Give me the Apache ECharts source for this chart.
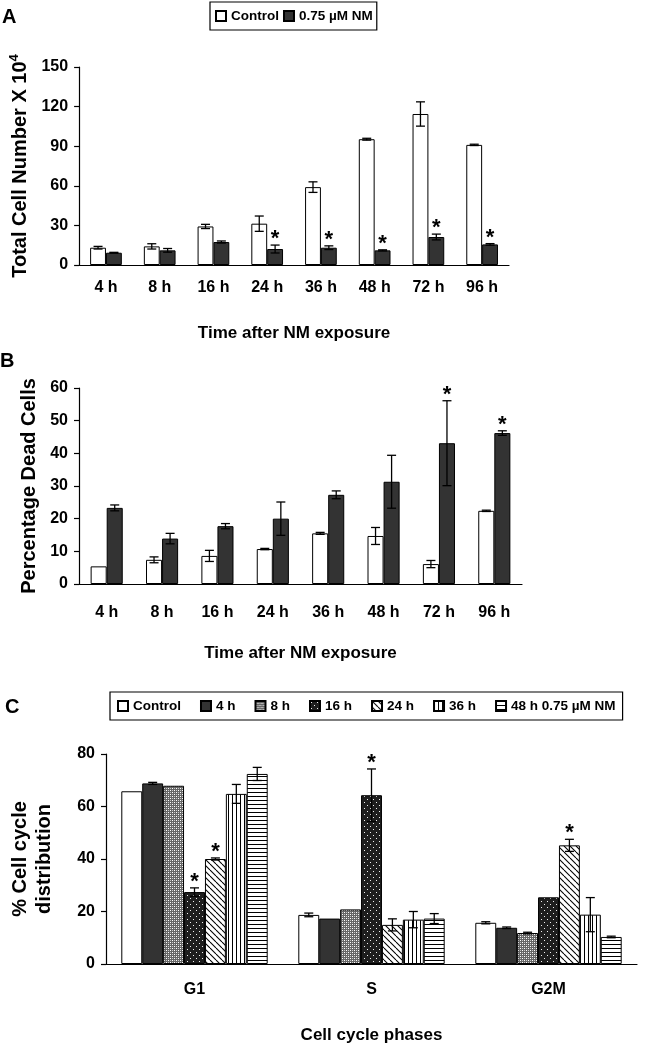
<!DOCTYPE html>
<html><head><meta charset="utf-8">
<script src="https://cdn.jsdelivr.net/npm/echarts@6/dist/echarts.min.js"></script>
<style>html,body{margin:0;padding:0;background:#fff}#c{width:663px;height:1050px}</style>
</head><body><div id="c"></div>
<script>
// ---------- data ----------
const timeCats = ['4 h','8 h','16 h','24 h','36 h','48 h','72 h','96 h'];
const countControl    = [13.1, 14.1, 29.2, 31.3, 59.0, 95.3, 114.4, 91.0];
const countControlErr = [1.0, 2.0, 1.6, 5.8, 4.0, 0.7, 9.2, 0.5];
const countNM         = [9.3, 11.1, 17.4, 12.1, 13.1, 11.1, 21.2, 15.6];
const countNMErr      = [0.3, 1.4, 0.8, 3.0, 1.4, 0.4, 2.2, 0.6];
const countNMSig      = [0, 0, 0, 1, 1, 1, 1, 1];
const countTicks = {min: 0, max: 150, interval: 30};

const deadControl    = [5.4, 7.4, 8.6, 10.7, 15.5, 14.7, 6.1, 22.4];
const deadControlErr = [0, 0.9, 1.7, 0.2, 0.3, 2.6, 1.1, 0.2];
const deadNM         = [23.3, 13.9, 17.7, 20.0, 27.3, 31.3, 43.1, 46.2];
const deadNMErr      = [0.9, 1.6, 0.8, 5.1, 1.2, 8.1, 13.0, 0.7];
const deadNMSig      = [0, 0, 0, 0, 0, 0, 1, 1];
const deadTicks = {min: 0, max: 60, interval: 10};

const phaseCats = ['G1', 'S', 'G2M'];
const cycleNames = ['Control', '4 h', '8 h', '16 h', '24 h', '36 h', '48 h'];
const cycleControl = [65.8, 18.7, 15.7], cycleControlErr = [0, 0.7, 0.4], cycleControlSig = [0, 0, 0];
const cycle4h  = [68.8, 17.3, 13.8], cycle4hErr  = [0.4, 0, 0.3],  cycle4hSig  = [0, 0, 0];
const cycle8h  = [67.9, 20.8, 11.8], cycle8hErr  = [0, 0, 0.3],    cycle8hSig  = [0, 0, 0];
const cycle16h = [27.4, 64.3, 25.4], cycle16hErr = [1.6, 10.0, 0], cycle16hSig = [1, 1, 0];
const cycle24h = [40.0, 14.9, 45.2], cycle24hErr = [0.4, 2.3, 2.3], cycle24hSig = [1, 0, 1];
const cycle36h = [64.8, 16.9, 18.8], cycle36hErr = [3.6, 3.1, 6.5], cycle36hSig = [0, 0, 0];
const cycle48h = [72.4, 17.3, 10.3], cycle48hErr = [2.5, 1.9, 0.3], cycle48hSig = [0, 0, 0];
const cycleTicks = {min: 0, max: 80, interval: 20};

// ---------- styles ----------
const FN = "'Liberation Sans',Arial,sans-serif";
const FR = "'Liberation Sans',Arial,sans-serif";
const DARK = '#333333';

function tile(w, h, bg, draw) {
  const c = document.createElement('canvas'); c.width = w; c.height = h;
  const x = c.getContext('2d'); x.fillStyle = bg; x.fillRect(0, 0, w, h); draw(x);
  return {image: c, repeat: 'repeat'};
}
const pat8 = tile(4, 4, '#666666', x => {
  x.fillStyle = '#ffffff'; x.fillRect(0, 0, 1, 1); x.fillRect(2, 2, 1, 1);
  x.fillStyle = '#c8c8c8'; x.fillRect(2, 0, 1, 1); x.fillRect(0, 2, 1, 1);
});
const pat16 = tile(6, 6, '#1e1e1e', x => { x.fillStyle = '#f0f0f0'; x.fillRect(1, 1, 1, 1); x.fillRect(4, 4, 1, 1); });
const pat24 = tile(6, 6, '#ffffff', x => {
  x.strokeStyle = '#000'; x.lineWidth = 1.1;
  [-6, 0, 6].forEach(k => { x.beginPath(); x.moveTo(k, 0); x.lineTo(k + 6, 6); x.stroke(); });
});
const pat36 = tile(4, 1, '#ffffff', x => { x.fillStyle = '#000'; x.fillRect(0, 0, 1, 1); });
const pat48 = tile(1, 4, '#ffffff', x => { x.fillStyle = '#000'; x.fillRect(0, 0, 1, 1); });
const cycleFills = ['#ffffff', DARK, pat8, pat16, pat24, pat36, pat48];

const grids = [
  {left: 78, top: 67, width: 431, height: 198},
  {left: 79, top: 388, width: 443, height: 196},
  {left: 101, top: 754, width: 536, height: 210}
];

const lineSt = {color: '#000', width: 1.2};
function xAx(g, data, margin, name, nameGap) {
  return {type: 'category', gridIndex: g, data,
    axisLine: {lineStyle: lineSt}, axisTick: {length: 6, lineStyle: lineSt},
    axisLabel: {color: '#000', fontFamily: FN, fontWeight: 'bold', fontSize: 16, margin},
    name, nameLocation: 'middle', nameGap,
    nameTextStyle: {color: '#000', fontFamily: FN, fontWeight: 'bold', fontSize: 17}};
}
function yAx(g, t, name, nameGap, extraName) {
  return Object.assign({type: 'value', gridIndex: g, min: t.min, max: t.max, interval: t.interval,
    axisLine: {show: true, lineStyle: lineSt}, axisTick: {show: true, length: 5, lineStyle: lineSt},
    splitLine: {show: false},
    axisLabel: {color: '#000', fontFamily: FN, fontWeight: 'bold', fontSize: 16, margin: 11},
    name, nameLocation: 'middle', nameGap, nameRotate: 90,
    nameTextStyle: Object.assign({color: '#000', fontFamily: FR, fontWeight: 'bold', fontSize: 20}, extraName || {})});
}

function bar(g, name, data, fill, gap) {
  return {type: 'bar', name, xAxisIndex: g, yAxisIndex: g, data, barGap: '0%', barCategoryGap: gap,
    itemStyle: {color: fill, borderColor: '#000', borderWidth: 1}, silent: true};
}
function errs(g, values, err, sig, idx, n, gapFrac) {
  return {type: 'custom', xAxisIndex: g, yAxisIndex: g, z: 10, silent: true,
    encode: {x: 0, y: 1},
    data: values.map((v, i) => [i, v, err[i], sig[i]]),
    renderItem(params, api) {
      const i = api.value(0), v = api.value(1), e = api.value(2), s = api.value(3);
      const band = api.size([1, 0])[0];
      const bw = band * (1 - gapFrac) / n;
      const cx = api.coord([i, v])[0] - band * (1 - gapFrac) / 2 + bw * (idx + 0.5);
      const top = api.coord([i, v + e])[1], bot = api.coord([i, v - e])[1];
      const ch = [];
      const st = {stroke: '#000', lineWidth: 1.3};
      if (e > 0) {
        ch.push({type: 'line', shape: {x1: cx, y1: top, x2: cx, y2: bot}, style: st});
        ch.push({type: 'line', shape: {x1: cx - 4.5, y1: top, x2: cx + 4.5, y2: top}, style: st});
        ch.push({type: 'line', shape: {x1: cx - 4.5, y1: bot, x2: cx + 4.5, y2: bot}, style: st});
      }
      if (s) {
        ch.push({type: 'text', style: {text: '*', x: cx, y: top - 6, align: 'center', verticalAlign: 'middle',
          font: 'bold 22px ' + FR, fill: '#000'}});
      }
      return {type: 'group', children: ch};
    }};
}

const gA = 0.41, gB = 0.42, gC = 0.173;
const series = [
  bar(0, 'Control', countControl, '#ffffff', '41%'),
  bar(0, '0.75 µM NM', countNM, DARK, '41%'),
  errs(0, countControl, countControlErr, [0,0,0,0,0,0,0,0], 0, 2, gA),
  errs(0, countNM, countNMErr, countNMSig, 1, 2, gA),
  bar(1, 'Control', deadControl, '#ffffff', '42%'),
  bar(1, '0.75 µM NM', deadNM, DARK, '42%'),
  errs(1, deadControl, deadControlErr, [0,0,0,0,0,0,0,0], 0, 2, gB),
  errs(1, deadNM, deadNMErr, deadNMSig, 1, 2, gB)
];
const cycleVals = [cycleControl, cycle4h, cycle8h, cycle16h, cycle24h, cycle36h, cycle48h];
const cycleErrs = [cycleControlErr, cycle4hErr, cycle8hErr, cycle16hErr, cycle24hErr, cycle36hErr, cycle48hErr];
const cycleSigs = [cycleControlSig, cycle4hSig, cycle8hSig, cycle16hSig, cycle24hSig, cycle36hSig, cycle48hSig];
cycleNames.forEach((nm, k) => series.push(bar(2, nm, cycleVals[k], cycleFills[k], '17.3%')));
cycleNames.forEach((nm, k) => series.push(errs(2, cycleVals[k], cycleErrs[k], cycleSigs[k], k, 7, gC)));

const legendBase = {orient: 'horizontal', icon: 'rect', itemWidth: 10, itemHeight: 10, selectedMode: false,
  borderColor: '#000', borderWidth: 1.2, backgroundColor: '#fff',
  textStyle: {color: '#000', fontFamily: FN, fontWeight: 'bold', fontSize: 13.5}};

const option = {
  animation: false,
  textStyle: {fontFamily: FN},
  grid: grids,
  xAxis: [
    xAx(0, timeCats, 15, 'Time after NM exposure', 60),
    xAx(1, timeCats, 21, 'Time after NM exposure', 61),
    xAx(2, phaseCats, 18, 'Cell cycle phases', 63)
  ],
  yAxis: [
    yAx(0, countTicks, 'Total Cell Number X 10{s|4}', 41, {rich: {s: {fontSize: 13, fontFamily: FR, fontWeight: 'bold', padding: [0, 0, 12, 0]}}}),
    yAx(1, deadTicks, 'Percentage Dead Cells', 37),
    yAx(2, cycleTicks, '% Cell cycle\ndistribution', 50, {lineHeight: 24})
  ],
  legend: [
    Object.assign({}, legendBase, {left: 210, top: 2, padding: [7, 4, 7, 5], itemGap: 4,
      data: ['Control', '0.75 µM NM']}),
    Object.assign({}, legendBase, {left: 110, top: 692, padding: [7, 7, 7, 7], itemGap: 19,
      data: cycleNames, formatter: n => n === '48 h' ? '48 h 0.75 µM NM' : n})
  ],
  graphic: [
    {type: 'text', left: 2, top: 7, style: {text: 'A', font: 'bold 20px ' + FR, fill: '#000'}},
    {type: 'text', left: 0, top: 351, style: {text: 'B', font: 'bold 20px ' + FR, fill: '#000'}},
    {type: 'text', left: 5, top: 697, style: {text: 'C', font: 'bold 20px ' + FR, fill: '#000'}}
  ],
  series
};
const chart = echarts.init(document.getElementById('c'), null, {renderer: 'canvas'});
chart.setOption(option);
</script></body></html>
